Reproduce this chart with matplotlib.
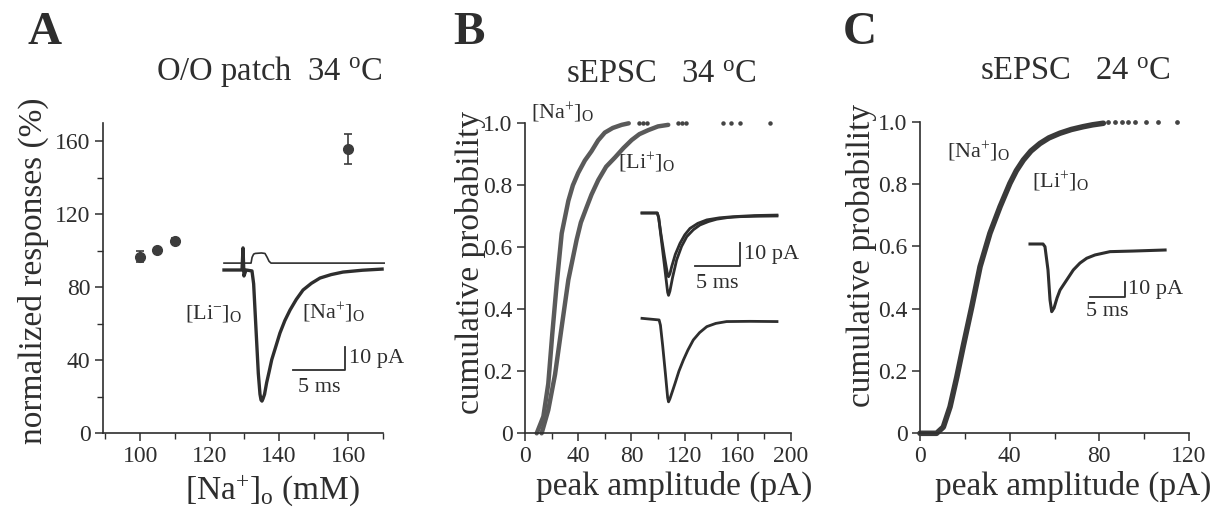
import numpy as np
import matplotlib
matplotlib.use("Agg")
import matplotlib.pyplot as plt
from matplotlib.ticker import MultipleLocator

plt.rcParams['font.family'] = ['Liberation Serif', 'DejaVu Serif']
plt.rcParams['mathtext.fontset'] = 'custom'
plt.rcParams['mathtext.rm'] = 'Liberation Serif'
plt.rcParams['mathtext.it'] = 'Liberation Serif:italic'
plt.rcParams['mathtext.bf'] = 'Liberation Serif:bold'

W, H = 1222, 518
ink = '#2e2e2e'

# ---- panel A: normalized responses vs [Na+]o
na_conc = [100, 105, 110, 160]
norm_resp = [96.7, 100.5, 105.5, 155.7]
norm_err = [3.0, 1.2, 1.2, 8.3]

# inset A traces (ms, pA)
a_na_t = [0, 1.73, 1.83, 1.92, 2.12, 2.69, 2.85, 3.08, 3.3, 3.46, 3.56, 3.65, 3.75, 3.9, 4.1,
          4.35, 4.59, 5.0, 5.38, 5.85, 6.35, 6.95, 7.6, 8.4, 9.23, 10.3, 11.44, 13.3, 15.2]
a_na_i = [0, 0, 9.6, -2.6, 0, -0.4, -6, -26, -45, -54, -56.5, -57, -56, -54, -49,
          -44, -39, -33, -27.4, -22, -17.4, -12.8, -8.7, -5.8, -3.5, -2.0, -0.9, -0.1, 0.4]
a_li_t = [0, 2.6, 2.7, 2.85, 3.0, 3.6, 3.94, 4.15, 4.33, 4.52, 15.4]
a_li_i = [3.0, 3.0, 5.5, 6.9, 7.2, 7.4, 7.2, 5.5, 3.8, 3.0, 3.0]

# ---- panel B: cumulative probability, 34 C
b_na_amp = [8.8, 13.8, 17.5, 20.5, 23.8, 27.6, 32.6, 36, 40, 45, 50, 55, 60, 66, 72.7, 78]
b_na_prob = [0, 0.054, 0.16, 0.32, 0.48, 0.645, 0.75, 0.80, 0.84, 0.88, 0.91, 0.945, 0.97, 0.985, 0.995, 1.0]
b_li_amp = [12.5, 17.5, 22.6, 27.6, 32.6, 38.8, 42, 46.4, 50, 55.1, 61, 67.7, 74, 80.2, 86, 92.7, 100, 107.7]
b_li_prob = [0, 0.075, 0.19, 0.344, 0.495, 0.624, 0.68, 0.73, 0.77, 0.817, 0.86, 0.89, 0.92, 0.946, 0.965, 0.978, 0.99, 0.995]
b_tail_amp = [86, 89, 92, 115, 118, 121, 149, 155, 162, 184]
b_xticks = [0, 40, 80, 120, 160, 200]
b_yticks = [0, 0.2, 0.4, 0.6, 0.8, 1.0]
b_yticklabels = ['0', '0.2', '0.4', '0.6', '0.8', '1.0']

# inset B traces (ms, pA)
b_deep_t = [0, 1.7, 1.85, 2.1, 2.5, 2.85, 2.95, 3.1, 3.4, 3.85, 4.4, 4.97, 5.7, 6.44, 7.4, 8.3, 9.5, 10.9, 13.0, 15.0]
b_deep_i = [0, 0, -2, -10, -23, -34.5, -35.8, -34, -28, -20.4, -14.5, -10.3, -7.3, -5.2, -3.7, -2.7, -2.0, -1.6, -1.4, -1.3]
b_shal_t = [0, 1.7, 1.85, 2.1, 2.5, 2.85, 2.95, 3.1, 3.3, 3.7, 4.22, 4.75, 5.33, 6.2, 7.2, 8.6, 10.1, 12.5, 15.0]
b_shal_i = [0, 0, -2, -9, -19, -27, -27.7, -26.5, -23.3, -18, -13.2, -9.5, -6.7, -4.5, -3.0, -2.1, -1.6, -1.1, -0.9]
b_low_t = [0, 1.9, 2.05, 2.3, 2.6, 2.85, 2.95, 3.1, 3.4, 3.67, 4.1, 4.6, 5.1, 5.7, 6.4, 7.2, 8.2, 9.4, 12.0, 15.0]
b_low_i = [0, -0.7, -3, -12, -24, -34.5, -36.3, -35, -31.5, -28.3, -23, -18.1, -13.8, -9.4, -6.2, -3.6, -2.2, -1.4, -1.3, -1.4]

# ---- panel C: cumulative probability, 24 C
c_amp = [0, 7.4, 10.4, 13.4, 16.4, 19.3, 23.1, 26.8, 31.2, 35.7, 40.1, 43, 46.1, 49.5, 53.5, 57.5, 62.4, 67.5, 72.8, 77, 81.8]
c_prob = [0, 0, 0.02, 0.085, 0.18, 0.28, 0.406, 0.535, 0.642, 0.727, 0.802, 0.843, 0.877, 0.906, 0.93, 0.948, 0.963, 0.975, 0.984, 0.99, 0.995]
c_tail_amp = [84, 87, 90, 93, 96, 101, 106, 114.6]
c_xticks = [0, 40, 80, 120]

# inset C trace (ms, pA)
c_tr_t = [0, 1.86, 2.14, 2.57, 2.86, 3.1, 3.43, 3.86, 4.29, 5.24, 6.19, 7.14, 8.1, 9.29, 11.43, 14.7, 19.3]
c_tr_i = [0, 0, -1.8, -17.3, -37.3, -45.1, -42.7, -36, -30.7, -24, -17.3, -12.7, -9.5, -7.3, -5.1, -4.7, -4.0]


def rect(x0, y0, x1, y1):
    return [x0 / W, 1 - y1 / H, (x1 - x0) / W, (y1 - y0) / H]


def ftext(x, y, s, **kw):
    kw.setdefault('color', ink)
    fig.text(x / W, 1 - y / H, s, **kw)


def style(ax):
    for s in ['top', 'right']:
        ax.spines[s].set_visible(False)
    for s in ['left', 'bottom']:
        ax.spines[s].set_color(ink)
        ax.spines[s].set_linewidth(1.2)
    ax.tick_params(which='major', direction='out', length=6, width=1.1, color=ink,
                   labelsize=17, labelcolor=ink, pad=3)
    ax.tick_params(which='minor', direction='out', length=4, width=1.0, color=ink)


def inset(pbox, origin, sx, sy):
    x0, y0, x1, y1 = pbox
    ox, oy = origin
    ax = fig.add_axes(rect(x0, y0, x1, y1))
    ax.set_xlim((x0 - ox) / sx, (x1 - ox) / sx)
    ax.set_ylim((oy - y1) / sy, (oy - y0) / sy)
    ax.axis('off')
    return ax


def scalebar(ax, t, i, fs=16):
    ax.plot([t - 5, t, t], [i, i, i + 10], color=ink, lw=1.3)
    ax.text(t + 0.4, i + 5, '10 pA', fontsize=fs, color=ink, va='center', ha='left')
    ax.text(t - 2.5, i - 3.5, '5 ms', fontsize=fs, color=ink, va='top', ha='center')


fig = plt.figure(figsize=(W / 100, H / 100), dpi=100)

na_lab = r'[Na$^{+}$]$_{\rm O}$'
li_lab = r'[Li$^{+}$]$_{\rm O}$'

# ---------------- A
axA = fig.add_axes(rect(103, 123, 383, 433))
axA.errorbar(na_conc, norm_resp, yerr=norm_err, fmt='o', color='#3c3c3c', ms=7,
             capsize=3, elinewidth=1.2, capthick=1.2)
axA.set_xlim(89.3, 170)
axA.set_ylim(0, 170)
axA.set_xticks([100, 120, 140, 160])
axA.xaxis.set_minor_locator(MultipleLocator(10))
axA.set_yticks([0, 40, 80, 120, 160])
axA.yaxis.set_minor_locator(MultipleLocator(20))
style(axA)

inA = inset((215, 240, 395, 410), (224, 270), 10.4, 2.3)
inA.plot(a_li_t, a_li_i, color=ink, lw=1.2)
inA.plot(a_na_t, a_na_i, color=ink, lw=2.4, solid_joinstyle='round')
scalebar(inA, 11.63, -43.5)

ftext(185, 313, r'[Li$^{-}$]$_{\rm O}$', fontsize=16, ha='left', va='center')
ftext(302, 313, na_lab, fontsize=16, ha='left', va='center')
ftext(45, 33, 'A', fontsize=34, fontweight='bold', ha='center', va='center')
ftext(269, 72, r'O/O patch  34 $^{\rm o}$C', fontsize=23.5, ha='center', va='center')
ftext(33, 271, 'normalized responses (%)', fontsize=24, rotation=90, ha='center', va='center')
ftext(272, 490, r'[Na$^{+}$]$_{\rm o}$ (mM)', fontsize=24, ha='center', va='center')

# ---------------- B
axB = fig.add_axes(rect(525, 123.3, 791, 433.3))
axB.plot(b_na_amp, b_na_prob, color='#5a5a5a', lw=3.2, solid_capstyle='round',
         solid_joinstyle='round', clip_on=False)
axB.plot(b_li_amp, b_li_prob, color='#5a5a5a', lw=3.2, solid_capstyle='round',
         solid_joinstyle='round', clip_on=False)
axB.plot(b_tail_amp, [1.0] * len(b_tail_amp), ls='none', marker='o', ms=2.2,
         color='#444444', clip_on=False)
axB.set_xlim(0, 200)
axB.set_ylim(0, 1.0)
axB.set_xticks(b_xticks)
axB.xaxis.set_minor_locator(MultipleLocator(20))
axB.set_yticks(b_yticks)
axB.set_yticklabels(b_yticklabels)
style(axB)

inB = inset((630, 200, 790, 410), (642, 213), 9.0, 2.3)
inB.plot(b_deep_t, b_deep_i, color=ink, lw=2.0, solid_joinstyle='round')
inB.plot(b_shal_t, b_shal_i, color=ink, lw=2.0, solid_joinstyle='round')
low_offset = -45.8
inB.plot(b_low_t, [v + low_offset for v in b_low_i], color=ink, lw=2.0, solid_joinstyle='round')
scalebar(inB, 10.9, -23)

ftext(531, 113, na_lab, fontsize=16, ha='left', va='center')
ftext(618, 163, li_lab, fontsize=16, ha='left', va='center')
ftext(469, 33, 'B', fontsize=34, fontweight='bold', ha='center', va='center')
ftext(661, 75, r'sEPSC   34 $^{\rm o}$C', fontsize=23.5, ha='center', va='center')
ftext(470, 262, 'cumulative probability', fontsize=24, rotation=90, ha='center', va='center')
ftext(674, 486, 'peak amplitude (pA)', fontsize=24, ha='center', va='center')

# ---------------- C
axC = fig.add_axes(rect(920, 121.7, 1189, 433.3))
axC.plot(c_amp, c_prob, color='#3a3a3a', lw=4.0, solid_capstyle='round',
         solid_joinstyle='round', clip_on=False)
axC.plot(c_tail_amp, [1.0] * len(c_tail_amp), ls='none', marker='o', ms=2.4,
         color='#444444', clip_on=False)
axC.set_xlim(0, 120)
axC.set_ylim(0, 1.0)
axC.set_xticks(c_xticks)
axC.xaxis.set_minor_locator(MultipleLocator(20))
axC.set_yticks(b_yticks)
axC.set_yticklabels(b_yticklabels)
style(axC)

inC = inset((1020, 230, 1200, 330), (1030, 244), 7.0, 1.5)
inC.plot(c_tr_t, c_tr_i, color=ink, lw=2.2, solid_joinstyle='round')
scalebar(inC, 13.57, -35.3)

ftext(947, 152, na_lab, fontsize=16, ha='left', va='center')
ftext(1032, 182, li_lab, fontsize=16, ha='left', va='center')
ftext(860, 33, 'C', fontsize=34, fontweight='bold', ha='center', va='center')
ftext(1075, 72, r'sEPSC   24 $^{\rm o}$C', fontsize=23.5, ha='center', va='center')
ftext(862, 255, 'cumulative probability', fontsize=24, rotation=90, ha='center', va='center')
ftext(1073, 486, 'peak amplitude (pA)', fontsize=24, ha='center', va='center')

fig.savefig('out.png', dpi=100, facecolor='white')
